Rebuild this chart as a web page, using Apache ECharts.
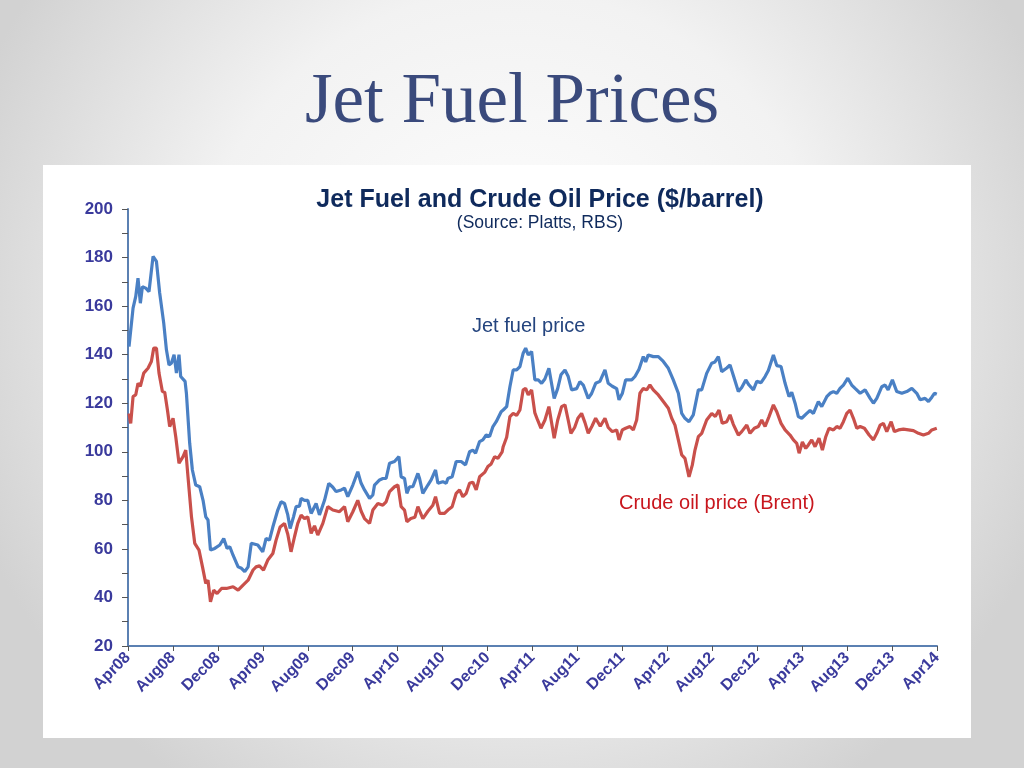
<!DOCTYPE html>
<html>
<head>
<meta charset="utf-8">
<script src="https://cdn.jsdelivr.net/npm/echarts@6/dist/echarts.min.js"></script>
<style>
html,body{margin:0;padding:0;}
#chart{width:1024px;height:768px;}
</style>
</head>
<body>
<div id="chart"></div>
<script>
// x tick labels (every 4 months from Apr08)
const xLabels = ['Apr08','Aug08','Dec08','Apr09','Aug09','Dec09','Apr10','Aug10','Dec10',
  'Apr11','Aug11','Dec11','Apr12','Aug12','Dec12','Apr13','Aug13','Dec13','Apr14'];

// Jet fuel price: months since Apr08, $/barrel
const jetMonths = [0.09,0.25,0.45,0.69,0.89,1.10,1.28,1.58,1.87,2.23,2.53,2.82,3.18,3.42,3.65,3.86,4.10,4.31,4.54,4.69,5.08,5.20,5.49,5.73,6.03,6.38,6.68,6.92,7.12,7.34,7.72,8.17,8.52,8.82,9.06,9.35,9.80,10.10,10.39,10.69,10.97,11.55,11.99,12.29,12.59,12.89,13.33,13.62,13.93,14.22,14.43,14.73,14.96,15.26,15.41,15.71,16.00,16.30,16.74,17.04,17.49,17.87,18.23,18.52,18.97,19.27,19.56,20.01,20.45,20.75,21.05,21.50,21.79,21.94,22.39,22.68,22.97,23.28,23.72,24.11,24.31,24.61,24.82,25.06,25.35,25.80,25.95,26.24,26.69,26.98,27.37,27.58,28.02,28.32,28.47,28.85,29.21,29.65,30.04,30.40,30.69,30.93,31.29,31.58,31.88,32.18,32.48,32.77,33.21,33.39,33.70,33.99,34.28,34.59,34.88,35.17,35.39,35.62,35.92,36.21,36.51,36.81,37.10,37.46,37.70,37.93,38.24,38.53,38.89,39.18,39.48,39.93,40.22,40.52,40.96,41.26,41.62,42.00,42.45,42.74,43.10,43.49,43.70,43.99,44.29,44.83,45.12,45.48,45.86,46.07,46.30,46.75,47.20,47.64,48.09,48.53,48.98,49.28,49.57,49.93,50.31,50.76,51.06,51.50,51.95,52.24,52.54,52.84,53.29,53.58,53.87,54.32,54.62,54.98,55.27,55.66,55.96,56.34,56.70,56.99,57.44,57.74,58.12,58.48,58.83,59.07,59.37,59.66,59.96,60.41,60.70,61.00,61.44,61.74,62.19,62.48,62.78,63.08,63.37,63.67,64.06,64.41,64.71,65.16,65.60,66.05,66.34,66.64,67.09,67.38,67.65,68.03,68.42,68.87,69.31,69.76,70.20,70.50,70.94,71.24,71.54,71.77,71.98];
const jetPrice = [143.3,143,159.2,164,171.5,161.2,168,167.4,166,180.5,178.4,165.4,153,142,135.8,136.5,140,132.4,140,131,129,124,103.5,92.5,86.3,85.6,80,73.2,71.9,59.5,60.2,61.6,64.3,60.2,60.9,57.4,52.6,52,50.6,52.6,62.3,61.6,58.8,64.3,63.6,69,76,79.4,78.7,74,68.4,73.2,77.4,77.6,80.8,80,80,74.6,78.7,74,80,87,85.4,83.6,84.3,85,81.5,86.3,91.8,87,84.3,80.8,82.2,86.3,88.4,89,89,95.3,96,98,89.7,89,82.9,85.6,85.6,91.1,89,82.9,86.3,88.4,92.5,87,87.7,87,89,89.7,96,96,94.6,100,100.7,99.4,104.2,104.9,106.9,106.3,110.4,112.4,116.5,117.2,118.6,126.8,133.7,133.7,135.1,140.6,142.7,139.9,141.3,129.6,129.6,128.2,130,134.4,128,122,126,131.7,133.7,131,125.5,126,128.9,127.5,122,124,128.2,129,133.7,128.2,127,126,121.4,124,129.6,129.6,131,134,139.2,137,139.9,139.2,139.2,137.2,134.4,129.6,124.1,115.8,113.8,112.4,115.2,125.5,125.5,132.3,136.5,137,139.2,133,134.5,135.8,131.5,124.8,126.5,129.6,127.5,125.5,129,128.5,131,133.5,139.9,135.5,135.1,128.2,122.7,124.5,120,114.5,113.8,115.8,117,115.8,120.7,118.6,122.7,124.1,124.8,124.1,126.1,127.5,130.3,127.5,126.1,124.1,125.5,122,120,122,126.8,127.5,125.5,129.6,124.8,124.1,124.8,126.1,124.1,121.4,122,120.7,122.5,124.1,123.7];

// Crude oil price (Brent): months since Apr08, $/barrel
const brentMonths = [0.09,0.24,0.45,0.69,0.89,1.10,1.40,1.78,2.08,2.29,2.53,2.76,3.06,3.27,3.51,3.71,4.01,4.25,4.54,4.90,5.14,5.34,5.65,5.94,6.32,6.63,6.92,7.12,7.34,7.63,7.93,8.32,8.76,9.35,9.80,10.24,10.69,11.13,11.40,11.70,12.06,12.44,12.89,13.18,13.54,13.93,14.22,14.51,14.82,15.11,15.41,15.71,16.00,16.30,16.60,16.89,17.34,17.78,18.23,18.82,19.27,19.56,20.01,20.45,20.75,21.05,21.50,21.79,22.24,22.68,22.97,23.28,23.72,24.02,24.31,24.61,24.82,25.17,25.53,25.80,26.24,26.69,27.13,27.37,27.73,28.17,28.47,28.85,29.21,29.51,29.80,30.10,30.40,30.69,30.99,31.29,31.74,32.03,32.32,32.63,32.92,33.30,33.39,33.70,33.99,34.28,34.59,34.88,35.17,35.39,35.62,35.92,36.21,36.45,36.75,37.10,37.46,37.70,37.93,38.24,38.59,38.89,39.18,39.42,39.75,40.04,40.37,40.67,40.96,41.29,41.62,42.03,42.45,42.74,43.10,43.49,43.70,43.99,44.29,44.67,44.97,45.27,45.56,45.86,46.16,46.45,46.75,47.20,47.64,48.09,48.39,48.68,48.98,49.28,49.57,49.93,50.22,50.46,50.76,51.06,51.50,51.95,52.27,52.60,52.89,53.29,53.58,53.87,54.32,54.62,55.07,55.36,55.74,56.10,56.40,56.70,57.05,57.44,57.74,58.12,58.48,58.92,59.22,59.52,59.73,60.02,60.32,60.55,60.85,61.15,61.50,61.80,62.10,62.39,62.78,63.08,63.37,63.67,63.97,64.26,64.56,64.86,65.16,65.54,65.96,66.34,66.64,66.94,67.23,67.53,67.92,68.21,68.57,69.01,69.46,69.90,70.35,70.79,71.24,71.54,71.98];
const brentPrice = [115.8,111.7,122.7,123.5,128.2,127,132.4,134.4,137.2,142.7,142.7,132.4,124.8,124.5,117.2,110.4,113.8,106.2,95.3,98,100.7,89.7,73.2,62.3,59.5,52.6,45.8,47.1,38.2,43,41.6,43.7,43.7,44.4,43,45.1,47.1,51.3,52.6,53,51.3,55.4,58.1,63.6,69,70.5,66,58.8,65,70.5,73.9,72.5,73.2,66.4,69.5,65.7,70.5,77.4,76,75.3,77.4,71.2,75.3,80,75.5,72.5,70.5,76,78.7,78,79.4,83.6,85.6,86.3,77.4,76,71.2,72.5,73,77.4,72.5,75.5,78,81.5,74.6,74.6,76,77.4,82.9,84.3,81.5,82.9,87,87.5,84.3,89.7,91.5,93.9,95,98,97.3,100,102.1,106,114.5,115.8,115,117.2,125.5,126.1,123.4,125.5,116,113.1,109.7,113,118.6,112,105.6,113,118.6,119.3,113,107.6,110,113.8,115.8,112,107.6,110.5,113.8,110.5,113.8,110,108.3,109,104.9,109,109.7,110.4,109,113.1,124.1,126.1,125.5,127.5,125.5,123.4,120.7,117.9,113.8,111,104.9,98.7,97.3,89.7,94.5,100.7,106.2,107.6,113.1,115.8,114.5,117.2,111.7,112.4,115.2,111.3,106.9,108.3,111,107.6,109.7,110.4,113.1,110.4,114.5,119.3,116.5,111.7,109,106.9,104.9,103.5,99.4,104,101.4,102.8,104.9,102.1,105.6,100.7,106.2,109.7,109,110.4,109.7,112.4,115.8,117.2,113.8,109.7,110.4,109.7,106.9,104.9,107.6,111,111.7,108.3,112.4,108.3,109,109.3,109,108.7,107.6,106.9,107.6,109,109.7];

const zip = (xs, ys) => xs.map((x, i) => [x, ys[i]]);

const chart = echarts.init(document.getElementById('chart'), null, {renderer: 'canvas'});
const labelColor = '#3a3a9c';
const axisColor = '#5b80b2';
const sans = '"Liberation Sans", Arial, sans-serif';

chart.setOption({
  backgroundColor: new echarts.graphic.RadialGradient(0.5, 0.4, 0.75, [
    {offset: 0, color: '#ffffff'},
    {offset: 0.55, color: '#f2f2f2'},
    {offset: 1, color: '#d2d2d2'}
  ]),
  animation: false,
  graphic: [
    {type: 'rect', z: -10, shape: {x: 43, y: 165, width: 928, height: 573}, style: {fill: '#ffffff'}},
    {type: 'text', left: 'center', top: 68, style: {text: 'Jet Fuel Prices', fill: '#3a4a7c', font: '71px "Liberation Serif", serif'}},
    {type: 'text', x: 540, y: 188, style: {text: 'Jet Fuel and Crude Oil Price ($/barrel)', fill: '#0f2a5c', font: 'bold 25px ' + sans, align: 'center'}},
    {type: 'text', x: 540, y: 214, style: {text: '(Source: Platts, RBS)', fill: '#0f2a5c', font: '17.5px ' + sans, align: 'center'}},
    {type: 'text', x: 472, y: 316, style: {text: 'Jet fuel price', fill: '#24447e', font: '20px ' + sans}},
    {type: 'text', x: 619, y: 493, style: {text: 'Crude oil price (Brent)', fill: '#c8161d', font: '20px ' + sans}}
  ],
  grid: {left: 128, right: 87, top: 209, bottom: 122, containLabel: false},
  xAxis: {
    type: 'value', min: 0, max: 72, interval: 4,
    axisLine: {show: true, lineStyle: {color: axisColor, width: 2}},
    axisTick: {show: true, inside: false, length: 5, lineStyle: {color: '#555', width: 1}},
    splitLine: {show: false},
    axisLabel: {
      rotate: 45, margin: 9, color: labelColor, fontWeight: 'bold', fontSize: 16,
      fontFamily: sans,
      formatter: v => xLabels[Math.round(v / 4)] || ''
    }
  },
  yAxis: {
    type: 'value', min: 20, max: 200, interval: 20,
    axisLine: {show: true, lineStyle: {color: axisColor, width: 2}},
    axisTick: {show: true, inside: false, length: 6, lineStyle: {color: '#555', width: 1}},
    minorTick: {show: true, splitNumber: 2, length: 6, lineStyle: {color: '#555', width: 1}},
    splitLine: {show: false},
    axisLabel: {
      margin: 15, color: labelColor, fontWeight: 'bold', fontSize: 17,
      fontFamily: sans
    }
  },
  series: [
    {name: 'Crude oil price (Brent)', type: 'line', data: zip(brentMonths, brentPrice), showSymbol: false,
     lineStyle: {color: '#c9504b', width: 3.2}, itemStyle: {color: '#c9504b'}},
    {name: 'Jet fuel price', type: 'line', data: zip(jetMonths, jetPrice), showSymbol: false,
     lineStyle: {color: '#4a80c4', width: 3.2}, itemStyle: {color: '#4a80c4'}}
  ]
});
</script>
</body>
</html>
